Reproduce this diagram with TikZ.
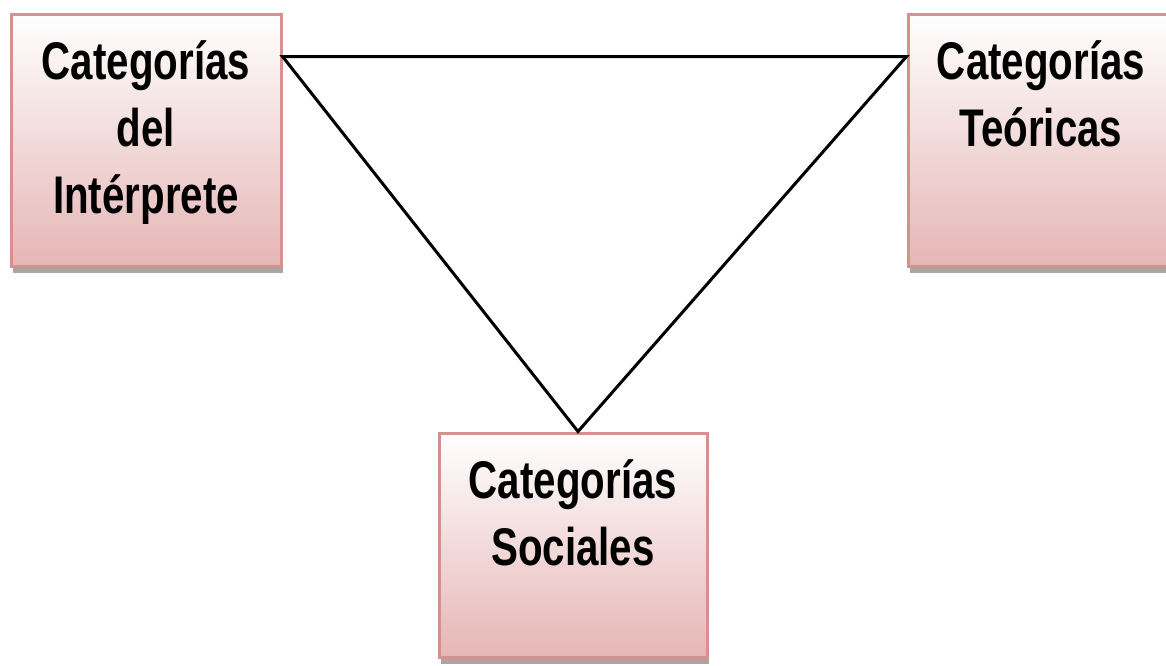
\documentclass[tikz,border=0pt]{standalone}
\usepackage{fontspec}
\newfontfamily\cajafont{Liberation Sans}[FakeStretch=0.76]
\usetikzlibrary{positioning,calc,shadows}
\definecolor{borde}{RGB}{214,145,143}
\definecolor{rosa}{RGB}{229,182,181}
\definecolor{sombra}{RGB}{165,145,145}
\begin{document}
\begin{tikzpicture}[x=1pt, y=-1pt,
  caja/.style={draw=borde, line width=3pt, top color=white, bottom color=rosa,
    drop shadow={fill=sombra, opacity=0.85, shadow xshift=2pt, shadow yshift=-7pt}},
  etiqueta/.style={anchor=north, inner sep=0pt, align=center, font=\cajafont\bfseries\fontsize{53}{67}\selectfont}]
  \useasboundingbox (0,0) rectangle (1166,665);
  \node[caja, minimum width=270pt, minimum height=252pt] (interprete) at (146,140) {};
  \node[caja, minimum width=270pt, minimum height=252pt] (teoricas) at (1043,140) {};
  \node[caja, minimum width=268pt, minimum height=224pt] (sociales) at (573,545) {};
  \node[etiqueta] (t1) at ($(interprete.north)+(0,28)$) {Categorías\\del\\Intérprete};
  \node[etiqueta] (t2) at ($(teoricas.north)+(-2,28)$) {Categorías\\Teóricas};
  \node[etiqueta] (t3) at ($(sociales.north)+(0,28)$) {Categorías\\Sociales};
  \coordinate (a) at ($(interprete.north east)+(0,44)$);
  \coordinate (b) at ($(teoricas.north west)+(0,44)$);
  \coordinate (c) at ($(sociales.north)+(5,0)$);
  \draw[line width=3pt, line join=miter] (a) -- (b) -- (c) -- cycle;
\end{tikzpicture}
\end{document}
